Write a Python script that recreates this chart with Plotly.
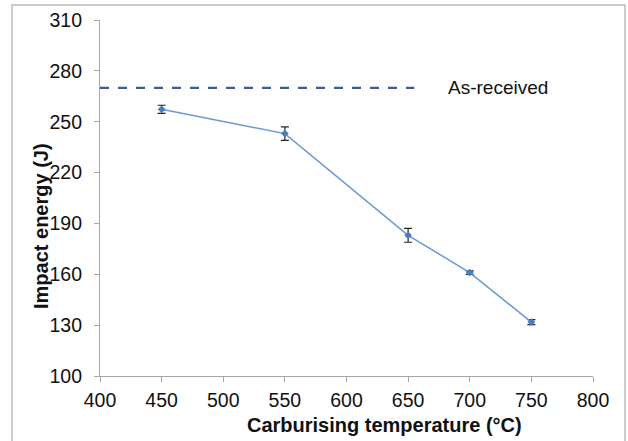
import plotly.graph_objects as go

temps = [450, 550, 650, 700, 750]
energy = [257.3, 243, 183, 161, 131.8]
err = [2.4, 4, 4.1, 1, 1.5]
as_received_x = [400, 655]
as_received_y = [270, 270]
x_ticks = [400, 450, 500, 550, 600, 650, 700, 750, 800]
y_ticks = [100, 130, 160, 190, 220, 250, 280, 310]

W, H = 628, 441
ml, mr, mt, mb = 100, 35, 20, 65
pw, ph = W - ml - mr, H - mt - mb
FONT = "Liberation Sans, Arial"


def px_to_paper_x(px):
    return (px - ml) / pw


def px_to_paper_y(py):
    return (H - mb - py) / ph


fig = go.Figure()
fig.add_trace(go.Scatter(
    x=as_received_x, y=as_received_y, mode="lines",
    line=dict(color="#3e5c94", width=2.2, dash="dash"),
    showlegend=False, hoverinfo="skip"))
fig.add_trace(go.Scatter(
    x=temps, y=energy, mode="lines+markers",
    line=dict(color="#6b97d6", width=1.5),
    marker=dict(symbol="diamond", size=6, color="#4a7ebb"),
    error_y=dict(type="data", array=err, visible=True, color="#222222",
                 thickness=1.2, width=4),
    showlegend=False))

fig.add_annotation(x=681, y=270, xref="x", yref="y", text="As-received",
                   showarrow=False, xanchor="left", yanchor="middle",
                   font=dict(family=FONT, size=19, color="#111111"))

fig.add_annotation(x=px_to_paper_x(41), y=px_to_paper_y(226), xref="paper", yref="paper",
                   text="<b>Impact energy (J)</b>", showarrow=False, textangle=-90,
                   xanchor="center", yanchor="middle",
                   font=dict(family=FONT, size=20, color="#111111"))
fig.add_annotation(x=px_to_paper_x(384), y=px_to_paper_y(425), xref="paper", yref="paper",
                   text="<b>Carburising temperature (°C)</b>", showarrow=False,
                   xanchor="center", yanchor="middle",
                   font=dict(family=FONT, size=20, color="#111111"))

fig.add_shape(type="rect", xref="paper", yref="paper", layer="above",
              x0=px_to_paper_x(12), x1=px_to_paper_x(625),
              y0=px_to_paper_y(446), y1=px_to_paper_y(5),
              line=dict(color="#bdbdbd", width=1.5), fillcolor="rgba(0,0,0,0)")

axis_common = dict(showgrid=False, zeroline=False, showline=True, linecolor="#a6a6a6",
                   linewidth=1.2, ticks="outside", ticklen=5, tickcolor="#a6a6a6",
                   tickfont=dict(family=FONT, size=19.5, color="#111111"))
fig.update_xaxes(range=[400, 800], tickvals=x_ticks, ticklabelstandoff=1, **axis_common)
fig.update_yaxes(range=[100, 310], tickvals=y_ticks, ticklabelstandoff=8, **axis_common)

fig.update_layout(width=W, height=H, margin=dict(l=ml, r=mr, t=mt, b=mb, autoexpand=False),
                  plot_bgcolor="white", paper_bgcolor="white",
                  font=dict(family=FONT))
fig.write_html("out.html", config={"displayModeBar": False},
               post_script="document.body.style.margin='0';")
